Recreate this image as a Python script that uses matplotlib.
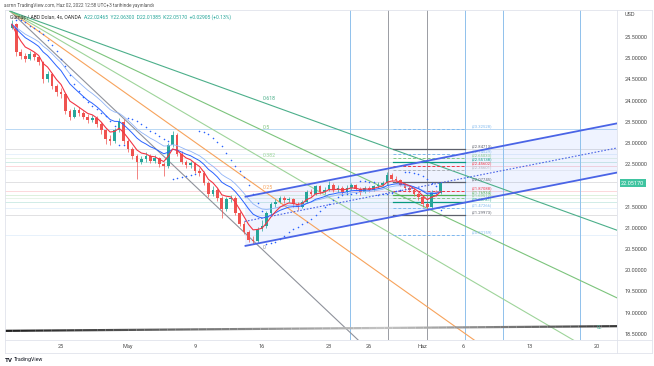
import numpy as np
import pandas as pd
import matplotlib
matplotlib.use('Agg')
import matplotlib.pyplot as plt
from matplotlib.collections import LineCollection
from matplotlib.lines import Line2D

W, H = 654, 366
plt.rcParams['font.family'] = ['Roboto', 'DejaVu Sans']

# ---------------- data ----------------
bar_start_day = -3.667          # trading-day index of first bar (Apr 25 = 0)
bars_per_day = 3
opens = [25.72, 25.80, 25.15, 25.05, 24.98, 25.10, 25.02, 24.90, 24.50, 24.62,
         24.35, 24.20, 24.15, 23.75, 23.62, 23.78, 23.70, 23.62, 23.55, 23.60,
         23.45, 23.30, 23.10, 23.05, 23.30, 23.50, 23.05, 22.85, 22.70, 22.55,
         22.62, 22.70, 22.58, 22.65, 22.50, 22.45, 22.95, 23.20, 22.75, 22.55,
         22.48, 22.52, 22.35, 22.30, 22.05, 21.80, 21.90, 21.70, 21.45, 21.68,
         21.70, 21.35, 21.10, 20.90, 20.72, 20.70, 20.98, 21.05, 21.35, 21.55,
         21.62, 21.70, 21.65, 21.68, 21.55, 21.50, 21.62, 21.85, 21.80, 21.98,
         21.85, 21.90, 22.02, 21.88, 21.95, 21.85, 21.95, 22.00, 21.92, 21.85,
         21.95, 21.88, 21.98, 22.02, 22.05, 22.25, 22.15, 22.12, 22.02, 21.95,
         21.90, 21.80, 21.72, 21.55, 21.48, 21.85, 21.82]
highs = [25.90, 25.84, 25.22, 25.12, 25.18, 25.15, 25.06, 24.94, 24.70, 24.66,
         24.40, 24.30, 24.18, 23.80, 23.86, 23.84, 23.76, 23.68, 23.66, 23.64,
         23.50, 23.34, 23.18, 23.35, 23.58, 23.56, 23.10, 22.90, 22.75, 22.70,
         22.78, 22.74, 22.72, 22.68, 22.55, 23.00, 23.28, 23.24, 22.80, 22.60,
         22.58, 22.56, 22.40, 22.34, 22.10, 21.98, 21.94, 21.74, 21.72, 21.78,
         21.74, 21.40, 21.15, 20.96, 20.80, 21.02, 21.18, 21.40, 21.62, 21.68,
         21.76, 21.74, 21.72, 21.70, 21.60, 21.66, 21.90, 21.92, 22.02, 22.00,
         21.96, 22.10, 22.06, 22.00, 21.98, 22.00, 22.06, 22.04, 21.96, 21.98,
         21.99, 22.02, 22.08, 22.10, 22.32, 22.30, 22.22, 22.16, 22.06, 21.98,
         21.94, 21.84, 21.76, 21.60, 21.88, 21.90, 22.06]
lows = [25.68, 25.05, 24.98, 24.92, 24.95, 24.96, 24.85, 24.42, 24.45, 24.28,
        24.10, 24.05, 23.68, 23.55, 23.58, 23.64, 23.56, 23.48, 23.50, 23.38,
        23.22, 22.98, 22.95, 23.00, 23.25, 22.98, 22.78, 22.62, 22.15, 22.50,
        22.55, 22.52, 22.54, 22.44, 22.22, 22.42, 22.90, 22.70, 22.50, 22.40,
        22.42, 22.30, 22.22, 22.00, 21.72, 21.76, 21.64, 21.24, 21.40, 21.60,
        21.30, 21.05, 20.85, 20.66, 20.62, 20.64, 20.92, 21.00, 21.30, 21.48,
        21.58, 21.58, 21.60, 21.48, 21.42, 21.46, 21.58, 21.74, 21.78, 21.80,
        21.80, 21.86, 21.84, 21.84, 21.80, 21.82, 21.90, 21.88, 21.78, 21.82,
        21.84, 21.86, 21.94, 21.98, 22.02, 22.10, 22.06, 21.98, 21.90, 21.84,
        21.74, 21.66, 21.50, 21.42, 21.46, 21.76, 21.80]
closes = [25.80, 25.15, 25.05, 24.98, 25.10, 25.02, 24.90, 24.50, 24.62, 24.35,
          24.20, 24.15, 23.75, 23.62, 23.78, 23.70, 23.62, 23.55, 23.60, 23.45,
          23.30, 23.10, 23.05, 23.30, 23.50, 23.05, 22.85, 22.70, 22.55, 22.62,
          22.70, 22.58, 22.65, 22.50, 22.45, 22.95, 23.20, 22.75, 22.55, 22.48,
          22.52, 22.35, 22.30, 22.05, 21.80, 21.90, 21.70, 21.45, 21.68, 21.70,
          21.35, 21.10, 20.90, 20.72, 20.70, 20.98, 21.05, 21.35, 21.55, 21.62,
          21.70, 21.65, 21.68, 21.55, 21.50, 21.62, 21.85, 21.80, 21.98, 21.85,
          21.90, 22.02, 21.88, 21.95, 21.85, 21.95, 22.00, 21.92, 21.85, 21.95,
          21.88, 21.98, 22.02, 22.05, 22.25, 22.15, 22.12, 22.02, 21.95, 21.90,
          21.80, 21.72, 21.55, 21.48, 21.85, 21.82, 22.0517]

last_price = 22.0517

xtick_days = [0, 5, 10, 15, 20, 23, 27, 30, 35, 40]
xtick_labels = ['25', 'May', '9', '16', '23', '26', 'Haz', '6', '13', '20']
# 22.0 label is hidden behind the last-price tag in the reference
price_ticks = [18.5, 19.0, 19.5, 20.0, 20.5, 21.0, 21.5, 22.5, 23.0,
               23.5, 24.0, 24.5, 25.0, 25.5]

# Fib speed resistance fan
fan_origin_day = -3.8
fan_high = 26.11
fan_end_day = 15.22
fan_low = 20.43
fan_levels = [0, 0.25, 0.382, 0.5, 0.618]
fan_level_labels = ['0', '0.25', '0.382', '0.5', '0.618']
fan_colors = ['#8f929b', '#f7a35c', '#9ed49a', '#7cc47c', '#4caf8a']

# parallel channel
chan_days = [13.7, 41.6]
chan_upper = [21.73, 23.47]
chan_lower = [20.57, 22.31]

# vertical time lines
vline_blue_days = [21.57, 30.15, 33.0, 38.7]
vline_grey_days = [24.4, 27.3]

# small fib retracement
fib_start_day = 24.8
fib_end_day = 30.15
fib_label_day = 30.65
fib_prices = [23.32528, 22.84713, 22.74529, 22.65033, 22.55138, 22.45602,
              22.35601, 22.07745, 21.87088, 21.76934, 21.69512, 21.60781,
              21.47266, 21.29973, 20.82159]
fib_colors = ['#7fb8ee', '#5d606b', '#7fb8ee', '#81c784', '#089981', '#f23645',
              '#b0b3bb', '#5d606b', '#f23645', '#4caf50', '#81c784', '#089981',
              '#7fb8ee', '#5d606b', '#7fb8ee']
fib_dashed = [True, False, True, True, False, True, True, False, True, False,
              True, False, True, False, True]

# long base trend line
base_days = [-4.2, 41.5]
base_prices = [18.57, 18.68]

# ---------------- figure ----------------
fig = plt.figure(figsize=(W / 100, H / 100), dpi=100)
fig.patch.set_facecolor('white')

def fx(x):
    return x / W

def fy(y):
    return 1 - y / H

ax = fig.add_axes([fx(5), fy(340), 612 / W, 330 / H])
ax.set_xlim(-4.18, 41.49)
ax.set_ylim(18.354, 26.137)
for s in ax.spines.values():
    s.set_visible(False)
ax.set_facecolor('white')

# ticks
ax.yaxis.tick_right()
ax.set_yticks(price_ticks)
ax.set_yticklabels([f'{p:.5f}' for p in price_ticks])
ax.tick_params(axis='y', length=0, pad=5.5, labelsize=4.0, labelcolor='#4a4a4a')
ax.set_xticks(xtick_days)
ax.set_xticklabels(xtick_labels)
ax.tick_params(axis='x', length=0, pad=3.2, labelsize=4.0, labelcolor='#4a4a4a')

x0, x1 = ax.get_xlim()

# faint full-width fib extensions
for p, c in zip(fib_prices, fib_colors):
    ax.axhline(p, color=c, lw=0.6, alpha=0.22, zorder=1)
ax.axhline(fib_prices[0], color='#9cc8f0', lw=0.7, alpha=0.6, zorder=1)

# channel fill
cx = np.array(chan_days)
ax.fill_between(cx, chan_lower, chan_upper, color='#2962ff', alpha=0.07, lw=0, zorder=1)

# vertical lines
for d in vline_blue_days:
    ax.axvline(d, color='#8fc1ec', lw=0.7, zorder=2)
for d in vline_grey_days:
    ax.axvline(d, color='#9a9ca3', lw=0.7, zorder=2)

# fan lines
xr = np.array([fan_origin_day, x1 + 1])
for lev, lab, c in zip(fan_levels, fan_level_labels, fan_colors):
    p_end = fan_low + lev * (fan_high - fan_low)
    slope = (p_end - fan_high) / (fan_end_day - fan_origin_day)
    ax.plot(xr, fan_high + slope * (xr - fan_origin_day), color=c, lw=0.8, zorder=2)
    ax.text(fan_end_day - 0.15, p_end + 0.04, lab, color=c, fontsize=3.8,
            ha='left', va='bottom', zorder=3)

# small fib retracement segments and labels
for p, c, dsh in zip(fib_prices, fib_colors, fib_dashed):
    ax.plot([fib_start_day, fib_end_day], [p, p], color=c, lw=0.9 if not dsh else 0.7,
            ls=(0, (3, 2)) if dsh else '-', zorder=3)
    ax.text(fib_label_day, p + 0.02, f'({p:.5f})', color=c, fontsize=3.0,
            ha='left', va='bottom', zorder=3)

# base trend line with gradient
bx = np.linspace(base_days[0], base_days[1], 80)
by = np.interp(bx, base_days, base_prices)
pts = np.array([bx, by]).T.reshape(-1, 1, 2)
segs = np.concatenate([pts[:-1], pts[1:]], axis=1)
t = np.linspace(0, 1, len(segs))
shade = np.where(t < 0.62, 0.12 + 0.65 * (t / 0.62), 0.77 - 0.55 * ((t - 0.62) / 0.38))
cols = [(s, s, s, 1) for s in shade]
ax.add_collection(LineCollection(segs, colors=cols, linewidths=1.6, zorder=3))
ax.text(40.0, 18.66, '0L', color='#4fb39a', fontsize=3.6, ha='left', va='center', zorder=3)

# candles
n = len(closes)
bx_days = bar_start_day + np.arange(n) / bars_per_day
o = np.array(opens); c_ = np.array(closes); h = np.array(highs); l = np.array(lows)
up = c_ >= o
colr = np.where(up, '#26a69a', '#ef5350')
ax.vlines(bx_days, l, h, colors=colr, lw=0.5, zorder=4)
body = np.where(np.abs(c_ - o) < 0.01, 0.01, c_ - o)
ax.bar(bx_days, body, bottom=o, width=0.2, color=colr, lw=0, zorder=4)

# moving averages
cs = pd.Series(c_)
ema_fast = cs.ewm(span=5, adjust=False).mean()
ema_mid = cs.ewm(span=11, adjust=False).mean()
ema_slow = cs.ewm(span=16, adjust=False).mean()
ax.plot(bx_days, ema_slow, color='#90b4f8', lw=0.6, zorder=5)
ax.plot(bx_days, ema_mid, color='#2962ff', lw=0.7, zorder=5)
ax.plot(bx_days, ema_fast, color='#f23645', lw=0.8, zorder=5)

# parabolic SAR
def psar(hh, ll, af0=0.02, afmax=0.2):
    m = len(hh)
    sar = np.zeros(m)
    bull = False
    ep = ll[0]
    af = af0
    sar[0] = hh[0]
    for i in range(1, m):
        s = sar[i - 1] + af * (ep - sar[i - 1])
        if bull:
            s = min(s, ll[i - 1], ll[max(i - 2, 0)])
            if ll[i] < s:
                bull = False; s = ep; ep = ll[i]; af = af0
            elif hh[i] > ep:
                ep = hh[i]; af = min(af + af0, afmax)
        else:
            s = max(s, hh[i - 1], hh[max(i - 2, 0)])
            if hh[i] > s:
                bull = True; s = ep; ep = hh[i]; af = af0
            elif ll[i] < ep:
                ep = ll[i]; af = min(af + af0, afmax)
        sar[i] = s
    return sar

sar = psar(h, l)
ax.scatter(bx_days[1:], sar[1:], s=1.3, color='#2962ff', lw=0, zorder=5)

# channel lines
mid = (np.array(chan_upper) + np.array(chan_lower)) / 2
ax.plot(cx, chan_upper, color='#4a64e6', lw=1.3, zorder=6, solid_capstyle='butt')
ax.plot(cx, chan_lower, color='#4a64e6', lw=1.3, zorder=6, solid_capstyle='butt')
ax.plot(cx, mid, color='#4a64e6', lw=0.8, ls=(0, (1.5, 1.5)), zorder=6)

# current price tag
ax.annotate(f'{last_price:.5f}', xy=(1.0, last_price), xycoords=('axes fraction', 'data'),
            xytext=(3, 0), textcoords='offset points', fontsize=4.0, color='white',
            va='center', ha='left', annotation_clip=False, zorder=10,
            bbox=dict(boxstyle='square,pad=0.25', fc='#3fc4a0', ec='none'))

# frame lines
def fline(xa, ya, xb, yb, c='#e0e3eb', lw=0.6):
    fig.add_artist(Line2D([fx(xa), fx(xb)], [fy(ya), fy(yb)], color=c, lw=lw))

fline(5, 10, 652, 10)
fline(5, 353, 652, 353)
fline(5, 10, 5, 353)
fline(652, 10, 652, 353)
fline(617, 10, 617, 353)
fline(5, 340, 652, 340)

# header texts
fig.text(fx(4), fy(5), 'asrnn TradingView.com, Haz 02, 2022 12:58 UTC+3 tarihinde yayınlandı',
         fontsize=3.4, color='#555555', ha='left', va='center')
t1 = fig.text(fx(10), fy(17), 'Gümüş / ABD Doları, 4s, OANDA  ', fontsize=3.6,
              color='#333333', ha='left', va='center')
fig.canvas.draw()
bb = t1.get_window_extent()
fig.text(bb.x1 / W, fy(17), 'A22.02465  Y22.06300  D22.01385  K22.05170  +0.02905 (+0.13%)',
         fontsize=3.6, color='#26a69a', ha='left', va='center')
fig.text(fx(625), fy(15), 'USD', fontsize=4.0, color='#4a4a4a', ha='left', va='center')
fig.text(fx(5), fy(360), 'TV', fontsize=4.5, color='#131722', ha='left', va='center',
         fontweight='bold')
fig.text(fx(14), fy(360), 'TradingView', fontsize=3.8, color='#131722', ha='left', va='center')

fig.savefig('out.png', dpi=100, facecolor='white')
